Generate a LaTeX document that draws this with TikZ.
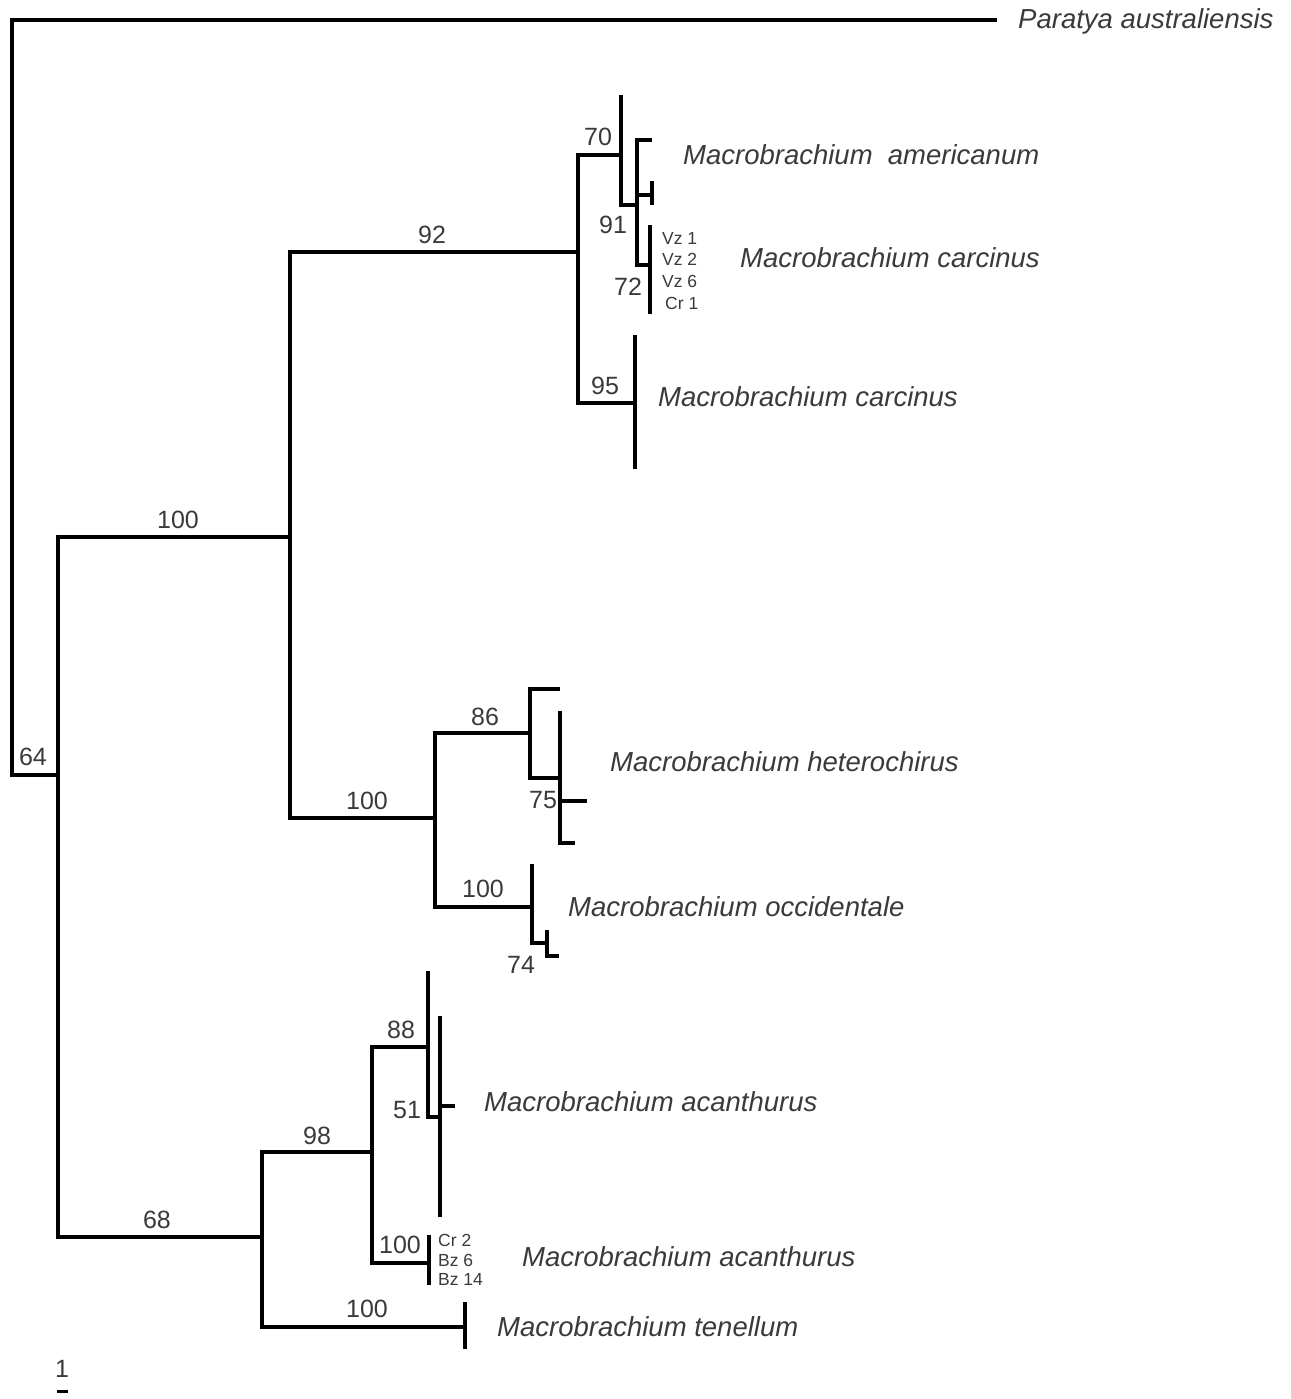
\documentclass[tikz,border=0pt]{standalone}
\usepackage{fontspec}
\setmainfont{Liberation Sans}
\definecolor{txt}{HTML}{3A3A3A}
\tikzset{
  br/.style={line width=3.5pt, line cap=rect, line join=miter, black},
  sp/.style={anchor=base west, inner sep=0pt, text=txt, font=\itshape\fontsize{27.5}{30}\selectfont},
  sup/.style={inner sep=0pt, text=txt, font=\fontsize{25}{28}\selectfont},
  sm/.style={anchor=west, inner sep=0pt, text=txt, font=\fontsize{17.5}{19}\selectfont},
}
\begin{document}
\begin{tikzpicture}[x=1pt,y=-1pt]
\useasboundingbox[fill=white] (0,0) rectangle (1290,1399);
% internal nodes
\coordinate (R) at (12,775);
\coordinate (N64) at (58,775);
\coordinate (N100a) at (290,537);
\coordinate (N92) at (578,252);
\coordinate (N70) at (621,155);
\coordinate (N91) at (637,205);
\coordinate (Nsm) at (652,195);
\coordinate (N72) at (650,265);
\coordinate (N95) at (635,403);
\coordinate (N100b) at (435,818);
\coordinate (N86) at (530,733);
\coordinate (N75) at (560,778);
\coordinate (N100c) at (532,907);
\coordinate (N74) at (547,943);
\coordinate (N68) at (262,1237);
\coordinate (N98) at (372,1152);
\coordinate (N88) at (428,1047);
\coordinate (N51) at (440,1117);
\coordinate (N100e) at (429,1263);
\coordinate (N100d) at (465,1327);
% tips
\coordinate (tPar) at (995,20);
\coordinate (t1) at (621,97);
\coordinate (t2) at (650,140);
\coordinate (t3) at (652,183);
\coordinate (t4) at (652,203);
\coordinate (t5) at (650,227);
\coordinate (t6) at (650,312);
\coordinate (t7) at (635,337);
\coordinate (t8) at (635,467);
\coordinate (t9) at (558,689);
\coordinate (t10) at (560,713);
\coordinate (t11) at (585,801);
\coordinate (t12) at (573,843);
\coordinate (t13) at (532,866);
\coordinate (t14) at (547,932);
\coordinate (t15) at (557,956);
\coordinate (t16) at (428,973);
\coordinate (t17) at (440,1018);
\coordinate (t18) at (453,1106);
\coordinate (t19) at (440,1215);
\coordinate (t20) at (429,1237);
\coordinate (t21) at (429,1283);
\coordinate (t22) at (465,1304);
\coordinate (t23) at (465,1347);
% branches
\draw[br] (R) |- (tPar);
\draw[br] (R) |- (N64);
\draw[br] (N64) |- (N100a);
\draw[br] (N64) |- (N68);
\draw[br] (N100a) |- (N92);
\draw[br] (N100a) |- (N100b);
\draw[br] (N92) |- (N70);
\draw[br] (N92) |- (N95);
\draw[br] (N70) |- (t1);
\draw[br] (N70) |- (N91);
\draw[br] (N91) |- (t2);
\draw[br] (N91) |- (Nsm);
\draw[br] (N91) |- (N72);
\draw[br] (Nsm) |- (t3);
\draw[br] (Nsm) |- (t4);
\draw[br] (N72) |- (t5);
\draw[br] (N72) |- (t6);
\draw[br] (N95) |- (t7);
\draw[br] (N95) |- (t8);
\draw[br] (N100b) |- (N86);
\draw[br] (N100b) |- (N100c);
\draw[br] (N86) |- (t9);
\draw[br] (N86) |- (N75);
\draw[br] (N75) |- (t10);
\draw[br] (N75) |- (t11);
\draw[br] (N75) |- (t12);
\draw[br] (N100c) |- (t13);
\draw[br] (N100c) |- (N74);
\draw[br] (N74) |- (t14);
\draw[br] (N74) |- (t15);
\draw[br] (N68) |- (N98);
\draw[br] (N68) |- (N100d);
\draw[br] (N98) |- (N88);
\draw[br] (N98) |- (N100e);
\draw[br] (N88) |- (t16);
\draw[br] (N88) |- (N51);
\draw[br] (N51) |- (t17);
\draw[br] (N51) |- (t18);
\draw[br] (N51) |- (t19);
\draw[br] (N100e) |- (t20);
\draw[br] (N100e) |- (t21);
\draw[br] (N100d) |- (t22);
\draw[br] (N100d) |- (t23);
% support values
\node[sup] (s64) at (33,757) {64};
\node[sup] (s100a) at (178,520) {100};
\node[sup] (s92) at (432,235) {92};
\node[sup] (s70) at (598,137) {70};
\node[sup] (s91) at (613,225) {91};
\node[sup] (s72) at (628,287) {72};
\node[sup] (s95) at (605,386) {95};
\node[sup] (s86) at (485,717) {86};
\node[sup] (s100b) at (367,801) {100};
\node[sup] (s75) at (543,800) {75};
\node[sup] (s100c) at (483,889) {100};
\node[sup] (s74) at (521,965) {74};
\node[sup] (s88) at (401,1030) {88};
\node[sup] (s51) at (407,1110) {51};
\node[sup] (s98) at (317,1136) {98};
\node[sup] (s68) at (157,1220) {68};
\node[sup] (s100e) at (400,1245) {100};
\node[sup] (s100d) at (367,1309) {100};
% small labels
\node[sm] (vz1) at (662,238) {Vz 1};
\node[sm] (vz2) at (662,259) {Vz 2};
\node[sm] (vz6) at (662,281) {Vz 6};
\node[sm] (cr1) at (665,303) {Cr 1};
\node[sm] (cr2) at (438,1240) {Cr 2};
\node[sm] (bz6) at (438,1260) {Bz 6};
\node[sm] (bz14) at (438,1279) {Bz 14};
% species
\node[sp] (par) at (1018,29) {Paratya australiensis};
\node[sp] (am) at (683,165) {Macrobrachium\ \ americanum};
\node[sp] (ca1) at (740,267) {Macrobrachium carcinus};
\node[sp] (ca2) at (658,406) {Macrobrachium carcinus};
\node[sp] (he) at (610,771) {Macrobrachium heterochirus};
\node[sp] (oc) at (568,916) {Macrobrachium occidentale};
\node[sp] (ac1) at (484,1111) {Macrobrachium acanthurus};
\node[sp] (ac2) at (522,1266) {Macrobrachium acanthurus};
\node[sp] (te) at (497,1336) {Macrobrachium tenellum};
% scale bar
\node[sup, font=\fontsize{25}{26}\selectfont] (sc) at (62,1369) {1};
\coordinate (sbL) at (57,1391);
\coordinate (sbR) at (68,1391);
\draw[line width=3pt, black] (sbL) -- (sbR);
\end{tikzpicture}
\end{document}
